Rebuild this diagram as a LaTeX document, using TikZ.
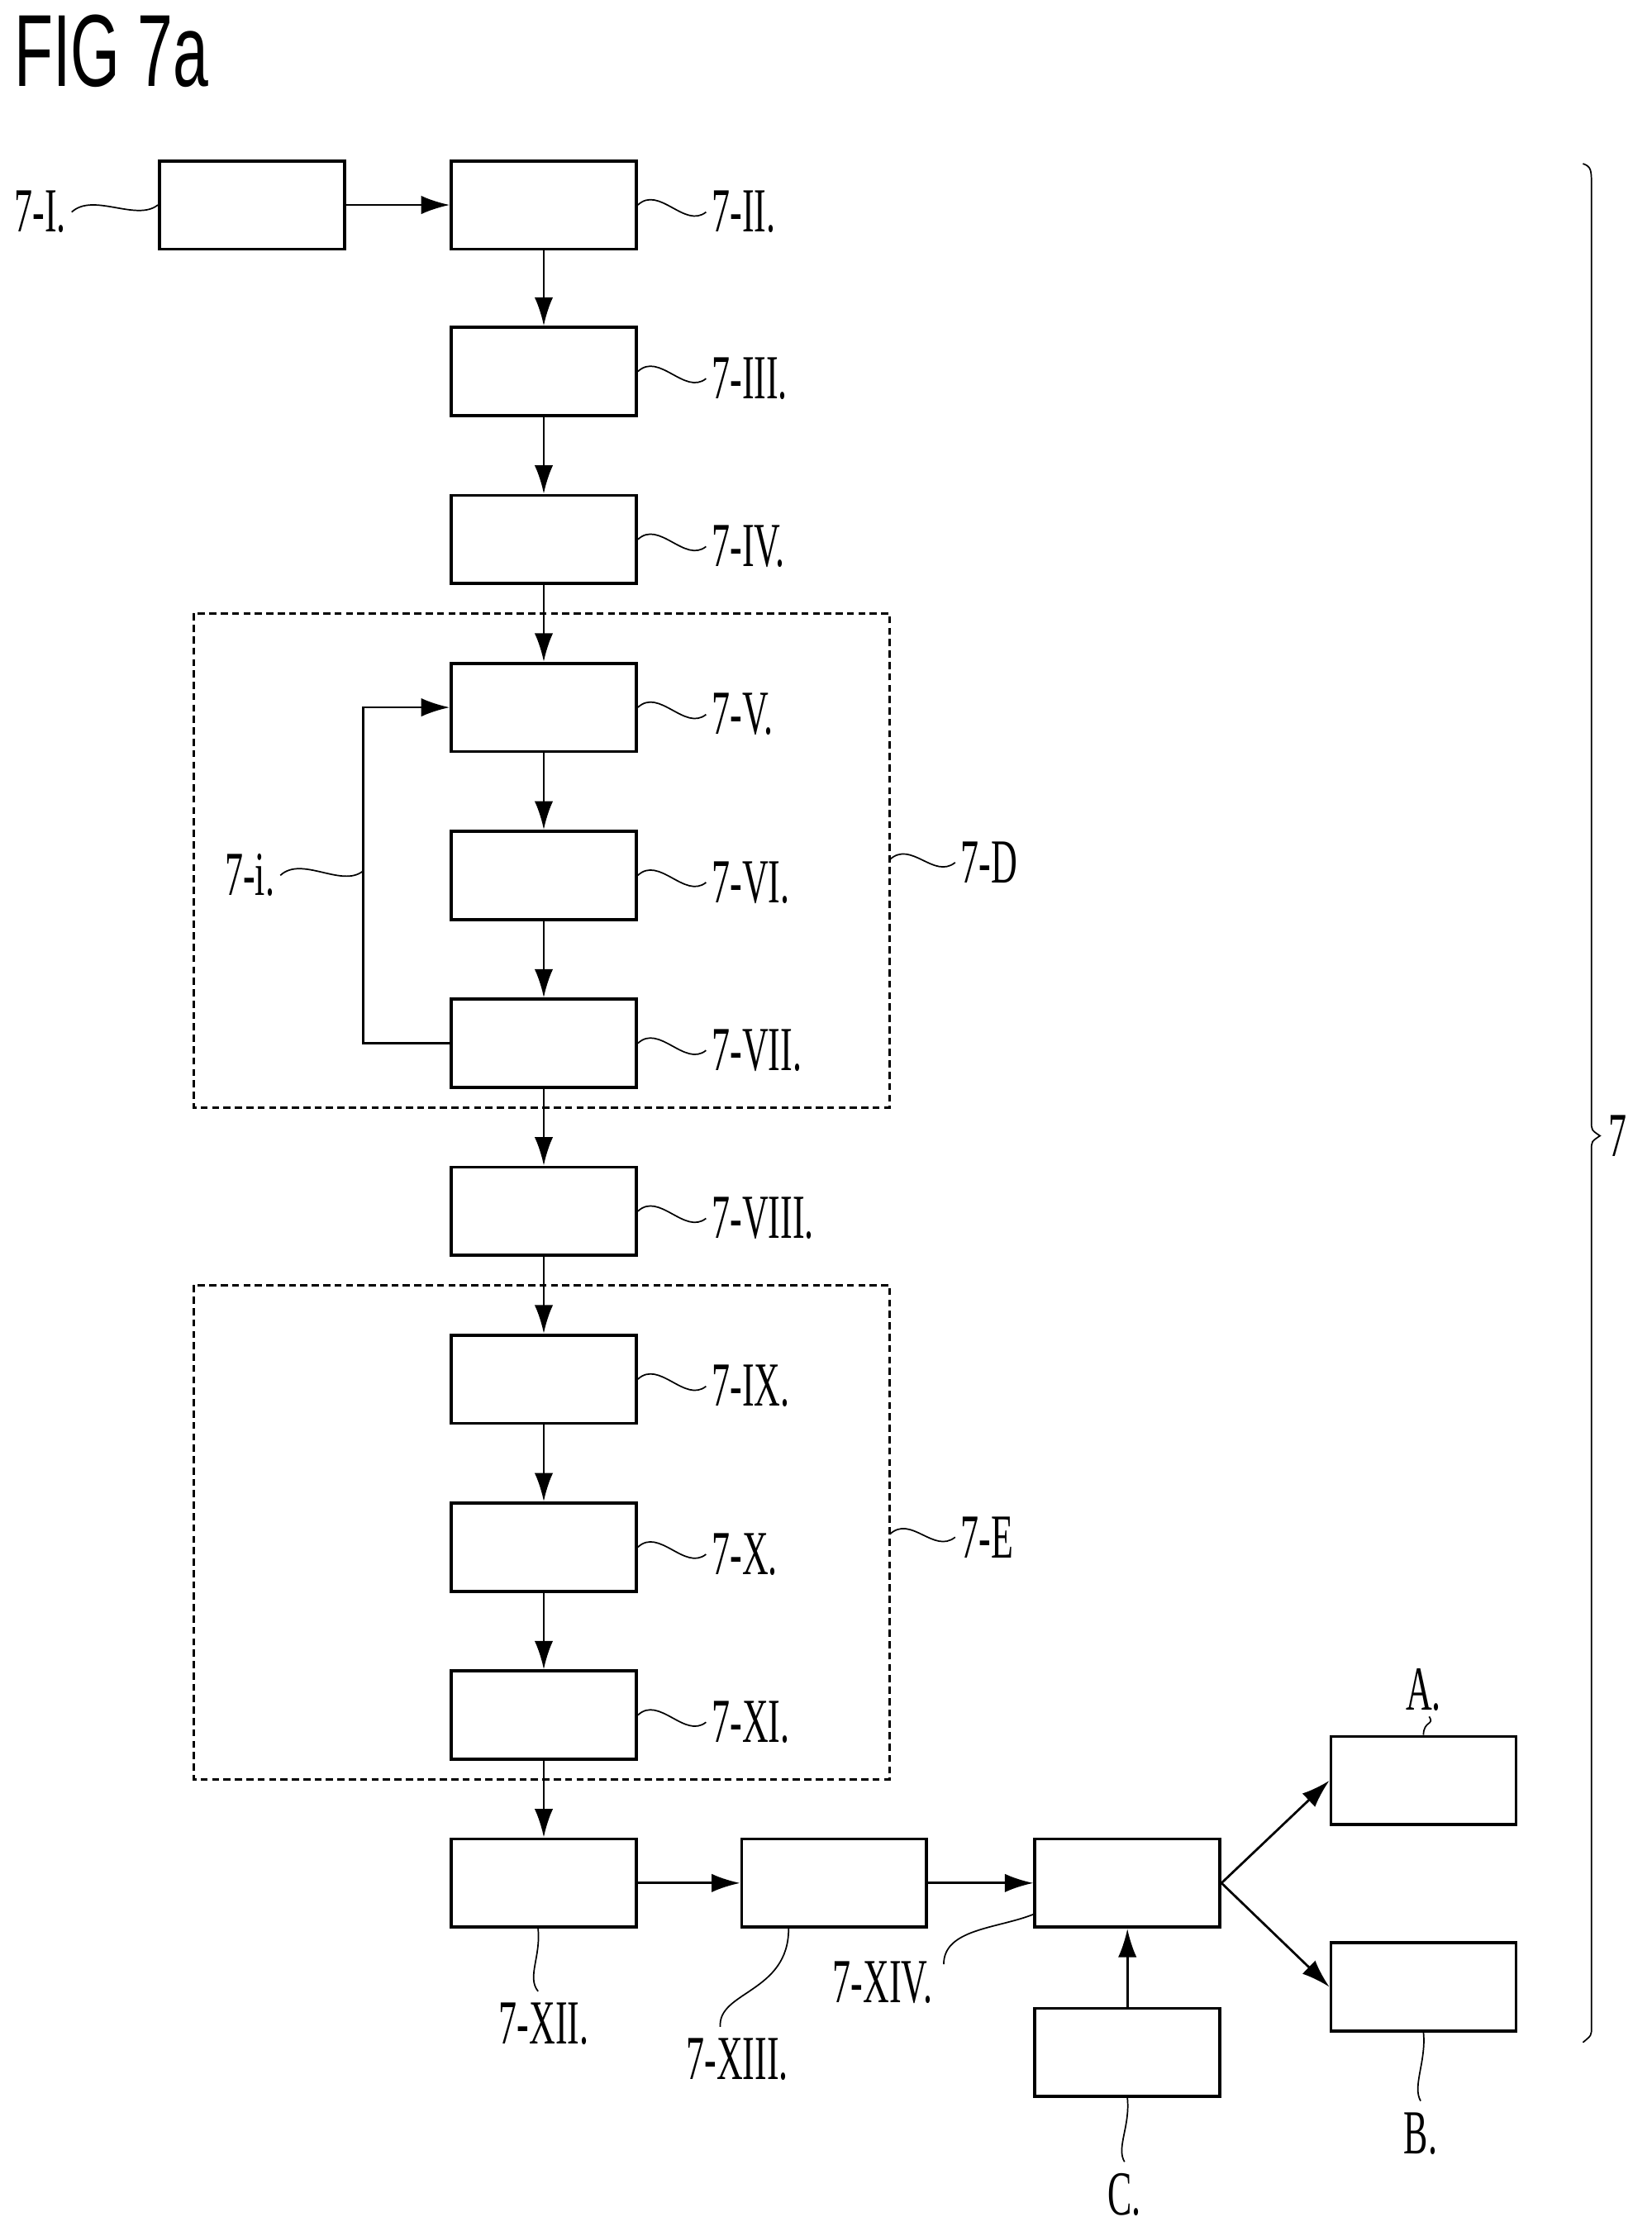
\documentclass[tikz,border=0pt]{standalone}
\usepackage{fontspec}
\setmainfont{Liberation Serif}
\newfontfamily\figfont{Liberation Sans}
\usetikzlibrary{arrows.meta}
\begin{document}
\begin{tikzpicture}[x=1pt,y=-1pt,
  box/.style={draw,line width=2.2pt,minimum width=130pt,minimum height=62pt,inner sep=0},
  grp/.style={draw,line width=1.8pt,dash pattern=on 5pt off 3pt},
  arr/.style={line width=1.6pt,-{Latex[length=20pt,width=13pt]}},
  lbl/.style={font=\fontsize{44}{46}\selectfont,xscale=0.58,inner sep=0},
  sq/.style={line width=1pt}]
\useasboundingbox (0,0) rectangle (1160,1571);
\node[anchor=north west,inner sep=0,font=\figfont\fontsize{72}{74}\selectfont,xscale=0.62] (fig) at (10,10) {FIG 7a};
% boxes
\node[box] (b1) at (177,144) {};
\node[box] (b2) at (382,144) {};
\node[box] (b3) at (382,261) {};
\node[box] (b4) at (382,379) {};
\node[box] (b5) at (382,497) {};
\node[box] (b6) at (382,615) {};
\node[box] (b7) at (382,733) {};
\node[box] (b8) at (382,851) {};
\node[box] (b9) at (382,969) {};
\node[box] (b10) at (382,1087) {};
\node[box] (b11) at (382,1205) {};
\node[box] (b12) at (382,1323) {};
\node[box] (b13) at (586,1323) {};
\node[box] (b14) at (792,1323) {};
\node[box] (bA) at (1000,1251) {};
\node[box] (bB) at (1000,1396) {};
\node[box] (bC) at (792,1442) {};
\draw[grp] (136,431) rectangle (625,778);
\draw[grp] (136,903) rectangle (625,1250);
\coordinate (dR) at (625,604);
\coordinate (eR) at (625,1078);
% arrows
\draw[arr] (b1) -- (b2);
\draw[arr] (b2) -- (b3);
\draw[arr] (b3) -- (b4);
\draw[arr] (b4) -- (b5);
\draw[arr] (b5) -- (b6);
\draw[arr] (b6) -- (b7);
\draw[arr] (b7) -- (b8);
\draw[arr] (b8) -- (b9);
\draw[arr] (b9) -- (b10);
\draw[arr] (b10) -- (b11);
\draw[arr] (b11) -- (b12);
\draw[arr] (b12) -- (b13);
\draw[arr] (b13) -- (b14);
\draw[arr] (bC) -- (b14);
\draw[arr] (b14.east) -- (bA.west);
\draw[arr] (b14.east) -- (bB.west);
\coordinate (lp) at (255,612);
\draw[arr] (b7.west) -| (lp) |- (b5.west);
% labels
\node[lbl,anchor=west] (l1) at (10,149) {7-I.};
\node[lbl,anchor=west] (l2) at (500,149) {7-II.};
\node[lbl,anchor=west] (l3) at (500,266) {7-III.};
\node[lbl,anchor=west] (l4) at (500,384) {7-IV.};
\node[lbl,anchor=west] (l5) at (500,502) {7-V.};
\node[lbl,anchor=west] (l6) at (500,620) {7-VI.};
\node[lbl,anchor=west] (l7) at (500,738) {7-VII.};
\node[lbl,anchor=west] (l8) at (500,856) {7-VIII.};
\node[lbl,anchor=west] (l9) at (500,974) {7-IX.};
\node[lbl,anchor=west] (l10) at (500,1092) {7-X.};
\node[lbl,anchor=west] (l11) at (500,1210) {7-XI.};
\node[lbl,anchor=west] (lD) at (675,606) {7-D};
\node[lbl,anchor=west] (lE) at (675,1080) {7-E};
\node[lbl,anchor=west] (li) at (158,615) {7-i.};
\node[lbl] (l12) at (382,1422) {7-XII.};
\node[lbl] (l13) at (518,1447) {7-XIII.};
\node[lbl] (l14) at (620,1393) {7-XIV.};
\node[lbl] (lA) at (1000,1187) {A.};
\node[lbl] (lB) at (998,1499) {B.};
\node[lbl] (lC) at (790,1542) {C.};
\node[lbl,anchor=west] (l7b) at (1130,798) {7};
% squiggles
\draw[sq] ([xshift=4pt]l1.east) .. controls +(15,-14) and +(-15,12) .. (b1.west);
\foreach \b/\l in {b2/l2,b3/l3,b4/l4,b5/l5,b6/l6,b7/l7,b8/l8,b9/l9,b10/l10,b11/l11}
  \draw[sq] (\b.east) .. controls +(15,-14) and +(-15,12) .. ([xshift=-4pt]\l.west);
\draw[sq] (dR) .. controls +(15,-14) and +(-15,12) .. ([xshift=-4pt]lD.west);
\draw[sq] (eR) .. controls +(15,-14) and +(-15,12) .. ([xshift=-4pt]lE.west);
\draw[sq] ([xshift=4pt]li.east) .. controls +(15,-14) and +(-15,12) .. (lp);
\draw[sq] ([xshift=-4pt]b12.south) .. controls +(2,20) and +(-8,-10) .. ([xshift=-4pt,yshift=8pt]l12.north);
\draw[sq] ([xshift=-32pt]b13.south) .. controls +(0,45) and +(-2,-25) .. ([xshift=-12pt,yshift=8pt]l13.north);
\draw[sq] ([yshift=-22pt]b14.west) .. controls +(-25,10) and +(0,-25) .. ([xshift=8pt,yshift=-2pt]l14.north east);
\draw[sq] (bC.south) .. controls +(2,20) and +(-6,-10) .. ([yshift=8pt]lC.north);
\draw[sq] (bB.south) .. controls +(2,20) and +(-6,-10) .. ([yshift=8pt]lB.north);
\draw[sq] (bA.north) .. controls +(0,-10) and +(4,6) .. ([xshift=4pt,yshift=-4pt]lA.south);
% brace
\coordinate (t1) at (1112,115);
\coordinate (t2) at (1112,1435);
\coordinate (tip) at (1124,798);
\draw[line width=1pt] (t1) .. controls (1118,117) and (1118,120) .. (1118,130) -- (1118,788) .. controls (1118,794) .. (tip) .. controls (1118,802) .. (1118,808) -- (1118,1425) .. controls (1118,1430) .. (t2);
\end{tikzpicture}
\end{document}
